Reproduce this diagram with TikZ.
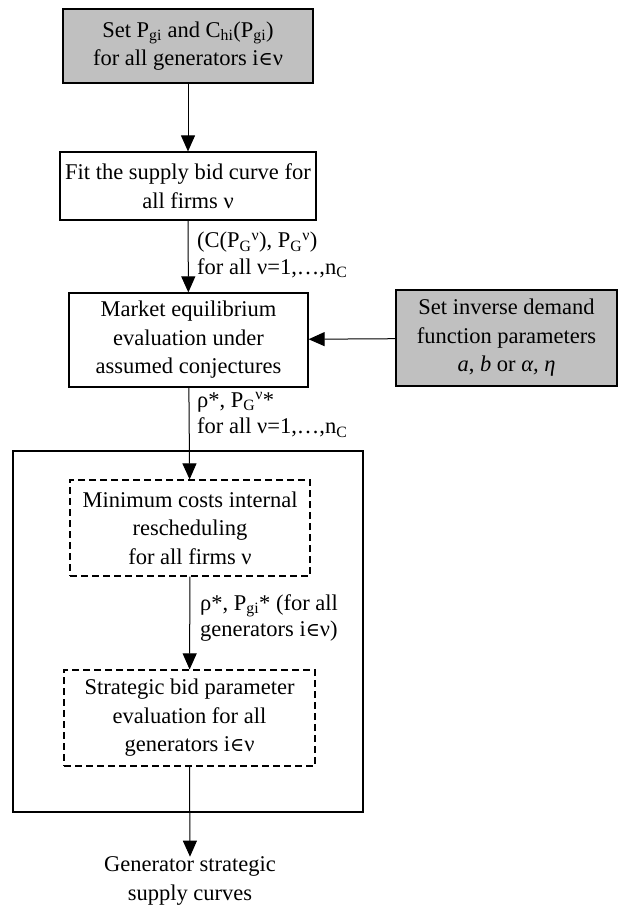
\documentclass[tikz,border=0pt]{standalone}
\usepackage{fontspec}
\setmainfont{Liberation Serif}
\newfontfamily\symfont{DejaVu Serif}
\usetikzlibrary{arrows.meta, positioning}
\definecolor{flowgray}{RGB}{192, 192, 192}
\newcommand{\inset}{{\symfont\scalebox{0.85}{∈}}}
\newcommand{\lo}[1]{\textsubscript{#1}}
\newcommand{\hi}[1]{\textsuperscript{#1}}
\begin{document}
\begin{tikzpicture}[
      x=1pt, y=-1pt,
      stage/.style={rectangle, draw, line width=1.2pt, inner sep=2pt, font=\fontsize{22.5}{28.5}\selectfont, align=center},
      given/.style={stage, fill=flowgray},
      trial/.style={stage, dash pattern=on 7pt off 4pt},
      note/.style={font=\fontsize{22.5}{26.5}\selectfont, align=left, anchor=west, inner sep=0pt},
      arr/.style={-{Triangle[length=16pt, width=14pt]}, line width=1pt}
    ]
      \useasboundingbox (0, 0) rectangle (621, 909);

      \node[given, minimum width=250pt, minimum height=74pt] (set) at (188, 46) {Set P\lo{gi} and C\lo{hi}(P\lo{gi})\\for all generators i\inset ν};
      \node[stage, minimum width=256pt, minimum height=68pt] (fit) at (188, 186) {Fit the supply bid curve for\\all firms ν};
      \node[stage, minimum width=239pt, minimum height=94pt] (market) at (188.5, 340) {Market equilibrium\\evaluation under\\assumed conjectures};
      \node[given, minimum width=221pt, minimum height=96pt] (demand) at (506.5, 338) {Set inverse demand\\function parameters\\\textit{a}, \textit{b} or \textit{α, η}};

      \node[stage, minimum width=350pt, minimum height=361pt] (firm) at (188, 631.5) {};
      \node[trial, minimum width=240pt, minimum height=96pt] (resched) at (190, 528) {Minimum costs internal\\rescheduling\\for all firms ν};
      \node[trial, minimum width=251pt, minimum height=96pt] (bid) at (189.5, 718) {Strategic bid parameter\\evaluation for all\\generators i\inset ν};
      \node[font=\fontsize{22.5}{28.5}\selectfont, align=center, inner sep=0pt] (curves) at (190, 881) {Generator strategic\\supply curves};

      \node[note] (L1) at (197, 255) {(C(P\lo{G}\hi{ν}), P\lo{G}\hi{ν})\\for all ν=1,…,n\lo{C}};
      \node[note] (L2) at (197, 415) {ρ*, P\lo{G}\hi{ν}*\\for all ν=1,…,n\lo{C}};
      \node[note] (L3) at (200, 618) {ρ*, P\lo{gi}* (for all\\generators i\inset ν)};

      \draw[arr] (set) -- (fit);
      \draw[arr] (fit) -- (market);
      \draw[arr] (demand) -- (market);
      \draw[arr] (market) -- (resched);
      \draw[arr] (resched) -- (bid);
      \draw[arr] (bid.south) -- (curves.north);
    \end{tikzpicture}
\end{document}
